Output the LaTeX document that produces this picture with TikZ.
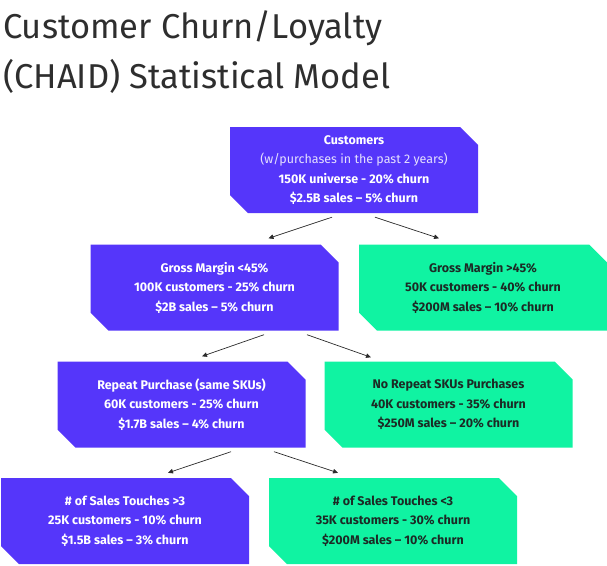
\documentclass[tikz,border=0pt]{standalone}
\usepackage{fontspec}
\setmainfont{Fira Sans}
\usetikzlibrary{arrows.meta,positioning,calc}
\definecolor{churnblue}{HTML}{5536FA}
\definecolor{churngreen}{HTML}{10F3A2}
\definecolor{darkink}{HTML}{1C2A25}
\definecolor{titleink}{HTML}{2E2E2E}
\definecolor{arrowink}{HTML}{2A2A2A}
\tikzset{
  leaf/.style={rectangle,fill=white,
               minimum width=248pt,minimum height=86pt,inner sep=0pt,
               align=center,font=\fontsize{12.5}{19.5}\selectfont\bfseries},
  cutfill/.style={path picture={
      \fill[#1] (path picture bounding box.north west)
        -- ([xshift=-18pt]path picture bounding box.north east)
        -- ([yshift=-18pt]path picture bounding box.north east)
        -- (path picture bounding box.south east)
        -- ([xshift=18pt]path picture bounding box.south west)
        -- ([yshift=18pt]path picture bounding box.south west)
        -- cycle;}},
  bluecard/.style={leaf,cutfill=churnblue,text=white},
  greencard/.style={leaf,cutfill=churngreen,text=darkink},
  splitarr/.style={-{Triangle[length=5pt,width=4.5pt]},line width=0.7pt,
                   draw=arrowink},
  titletext/.style={anchor=north west,align=left,inner sep=0pt,text=titleink,
                    font=\fontsize{34.5}{50}\selectfont}
}
\begin{document}
\begin{tikzpicture}[x=1pt,y=-1pt]
    \useasboundingbox (0,0) rectangle (607,565);

    \node[titletext] (title) at (3,10)
      {Customer Churn/Loyalty\\(CHAID) Statistical Model};

    \node[bluecard] (cust) at (354,170)
      {Customers\\
       {\mdseries\color{white!85!churnblue}(w/purchases in the past 2 years)}\\
       150K universe - 20\% churn\\\$2.5B sales -- 5\% churn};

    \node[bluecard] (gmlow) at (214.5,287.5)
      {Gross Margin <45\%\\100K customers - 25\% churn\\\$2B sales -- 5\% churn};
    \node[greencard] (gmhigh) at (483,287.5)
      {Gross Margin >45\%\\50K customers - 40\% churn\\\$200M sales -- 10\% churn};

    \node[bluecard] (repeat) at (181.5,404.5)
      {Repeat Purchase (same SKUs)\\60K customers - 25\% churn\\\$1.7B sales -- 4\% churn};
    \node[greencard] (norepeat) at (448.5,404.5)
      {No Repeat SKUs Purchases\\40K customers - 35\% churn\\\$250M sales -- 20\% churn};

    \node[bluecard] (touchhigh) at (125,521)
      {\# of Sales Touches >3\\25K customers - 10\% churn\\\$1.5B sales -- 3\% churn};
    \node[greencard] (touchlow) at (393,521)
      {\# of Sales Touches <3\\35K customers - 30\% churn\\\$200M sales -- 10\% churn};

    \draw[splitarr] ($(cust.south)+(-22,4)$) -- ($(gmlow.north)+(54,-6)$);
    \draw[splitarr] ($(cust.south)+(21,4)$) -- ($(gmhigh.north)+(-44,-6)$);
    \draw[splitarr] ($(gmlow.south)+(49.5,4)$) -- ($(repeat.north)+(20.5,-5)$);
    \draw[splitarr] ($(gmlow.south)+(92.5,4)$) -- ($(norepeat.north)+(-77.5,-4)$);
    \draw[splitarr] ($(repeat.south)+(49.5,4)$) -- ($(touchhigh.north)+(43,-5)$);
    \draw[splitarr] ($(repeat.south)+(92.5,4)$) -- ($(touchlow.north)+(-55,-5)$);
  \end{tikzpicture}
\end{document}
